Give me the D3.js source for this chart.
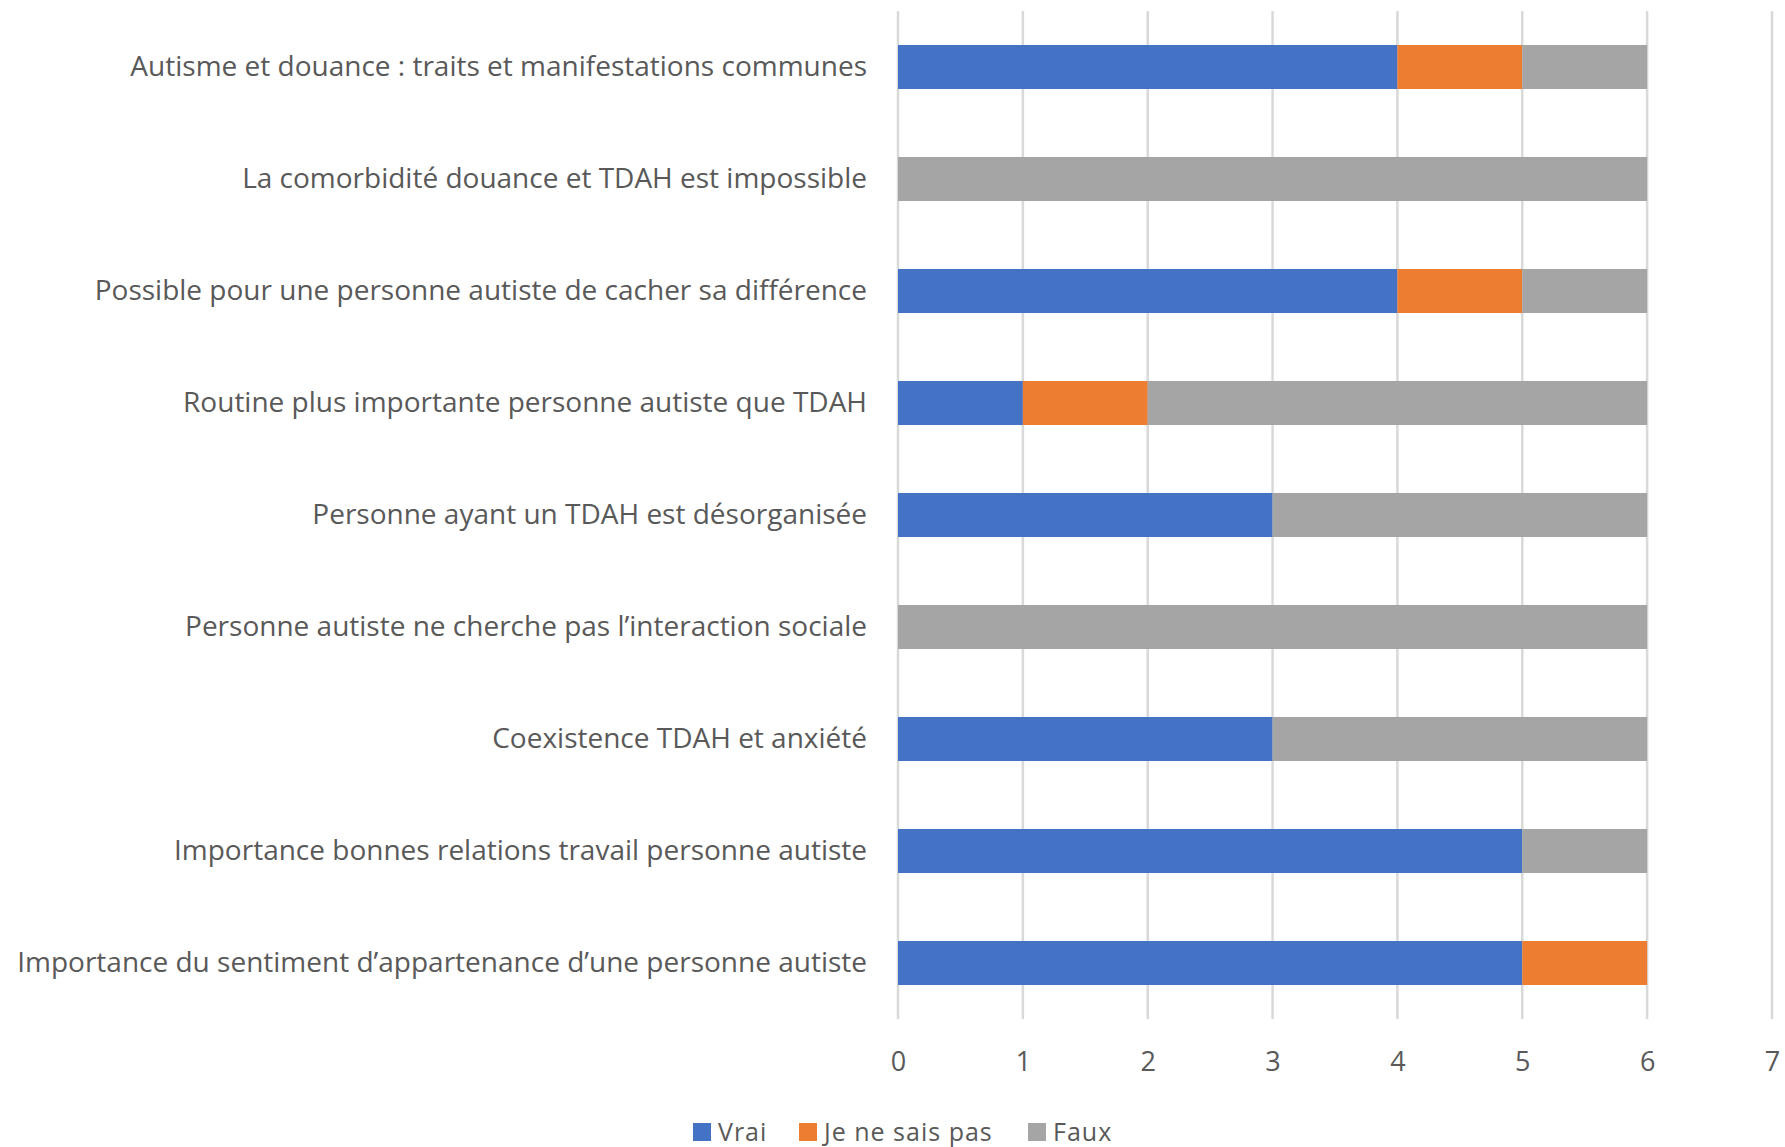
<!DOCTYPE html>
<html>
<head>
<meta charset="utf-8">
<script src="https://cdn.jsdelivr.net/npm/d3@7"></script>
<style>
  html, body { margin: 0; padding: 0; background: #fff; }
  text { font-family: "Open Sans", sans-serif; fill: #595959; }
</style>
</head>
<body>
<div id="chart"></div>
<script>
// ---- data ----
var questions = [
  "Autisme et douance : traits et manifestations communes",
  "La comorbidité douance et TDAH est impossible",
  "Possible pour une personne autiste de cacher sa différence",
  "Routine plus importante personne autiste que TDAH",
  "Personne ayant un TDAH est désorganisée",
  "Personne autiste ne cherche pas l’interaction sociale",
  "Coexistence TDAH et anxiété",
  "Importance bonnes relations travail personne autiste",
  "Importance du sentiment d’appartenance d’une personne autiste"
];
var vrai     = [4, 0, 4, 1, 3, 0, 3, 5, 5];
var nsp      = [1, 0, 1, 1, 0, 0, 0, 0, 1];
var faux     = [1, 6, 1, 4, 3, 6, 3, 1, 0];
var seriesNames = ["Vrai", "Je ne sais pas", "Faux"];
var colors = ["#4472C4", "#ED7D31", "#A5A5A5"];
var xTicks = [0, 1, 2, 3, 4, 5, 6, 7];

var W = 1785, H = 1147;
var plot = {left: 898, right: 1772, top: 11, bottom: 1019};

var svg = d3.select("#chart").append("svg")
    .attr("width", W)
    .attr("height", H);

var x = d3.scaleLinear().domain([0, 7]).range([plot.left, plot.right]);
var y = d3.scaleBand().domain(questions).range([plot.top, plot.bottom]).paddingInner(0.607).paddingOuter(0.3035);

// grid lines
svg.append("g")
    .attr("class", "grid")
    .selectAll("line")
    .data(xTicks)
    .enter()
    .append("line")
    .attr("x1", function (d) { return x(d); })
    .attr("x2", function (d) { return x(d); })
    .attr("y1", plot.top)
    .attr("y2", plot.bottom)
    .attr("stroke", "#D9D9D9")
    .attr("stroke-width", 2.5);

// stacked bars
var rows = questions.map(function (q, i) {
    return {q: q, Vrai: vrai[i], "Je ne sais pas": nsp[i], Faux: faux[i]};
});
var stacked = d3.stack().keys(seriesNames)(rows);

svg.append("g")
    .selectAll("g")
    .data(stacked)
    .enter()
    .append("g")
    .attr("fill", function (d, i) { return colors[i]; })
    .selectAll("rect")
    .data(function (d) { return d; })
    .enter()
    .append("rect")
    .attr("x", function (d) { return x(d[0]); })
    .attr("y", function (d) { return y(d.data.q); })
    .attr("width", function (d) { return x(d[1]) - x(d[0]); })
    .attr("height", y.bandwidth());

// category labels
var yAxis = d3.axisLeft(y).tickSize(0).tickPadding(31);
svg.append("g")
    .attr("transform", "translate(" + plot.left + ",0)")
    .call(yAxis)
    .call(function (g) { g.select(".domain").remove(); })
    .selectAll("text")
    .style("font-family", "'Open Sans', sans-serif")
    .style("font-size", "28px")
    .style("fill", "#595959");

// x tick labels
var xAxis = d3.axisBottom(x).tickValues(xTicks).tickSize(0).tickPadding(0).tickFormat(d3.format("d"));
svg.append("g")
    .attr("transform", "translate(0,1062)")
    .call(xAxis)
    .call(function (g) { g.select(".domain").remove(); })
    .selectAll("text")
    .attr("dy", "0.35em")
    .style("font-family", "'Open Sans', sans-serif")
    .style("font-size", "27px")
    .style("fill", "#595959");

// legend
var legendX = [693, 799, 1028];
var legend = svg.append("g").attr("class", "legend");
var item = legend.selectAll("g")
    .data(seriesNames)
    .enter()
    .append("g")
    .attr("transform", function (d, i) { return "translate(" + legendX[i] + ",1132)"; });
item.append("rect")
    .attr("x", 0)
    .attr("y", -9)
    .attr("width", 18)
    .attr("height", 18)
    .attr("fill", function (d, i) { return colors[i]; });
item.append("text")
    .attr("x", 25)
    .attr("dy", "0.35em")
    .style("font-size", "25px")
    .style("letter-spacing", "1px")
    .text(function (d) { return d; });
</script>
</body>
</html>
